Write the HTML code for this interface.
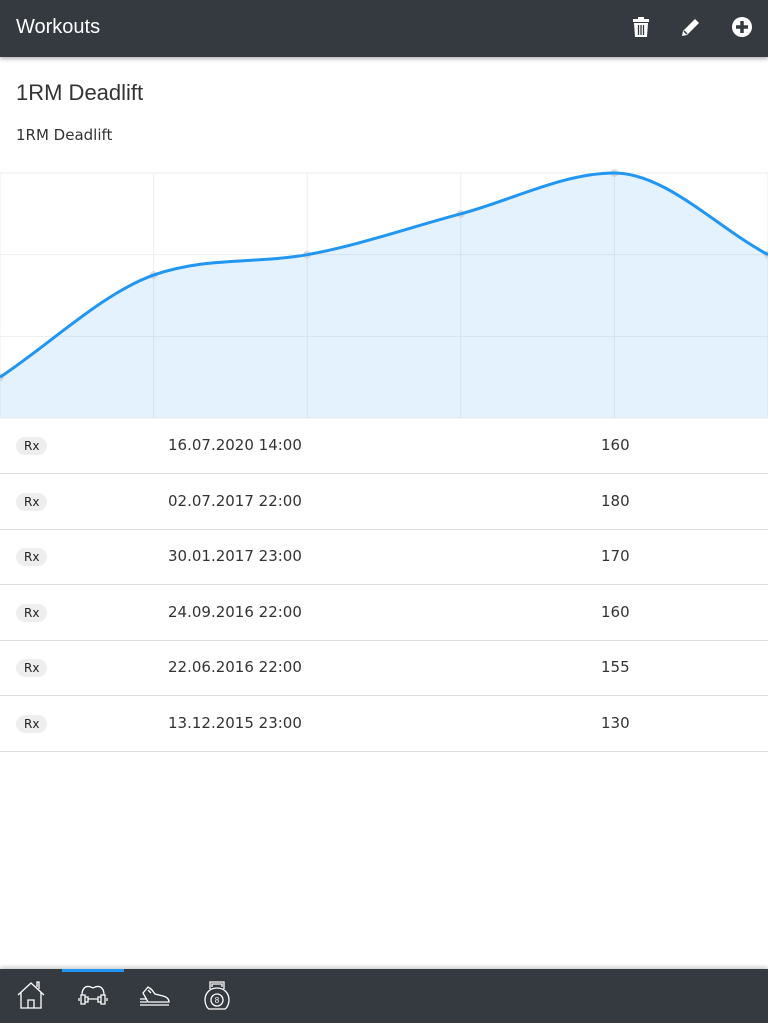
<!DOCTYPE html>
<html><head><meta charset="utf-8"><style>
*{box-sizing:border-box;margin:0;padding:0}
body{width:768px;height:1023px;overflow:hidden;background:#fff;font-family:"Liberation Sans","DejaVu Sans",sans-serif;color:#333;position:relative}
.top{position:absolute;left:0;top:0;width:768px;height:57px;background:#343a40;color:#fff;box-shadow:0 2px 4px rgba(0,0,0,.3)}
.top .t{position:absolute;left:16px;top:16px;font-size:20px}
.ic{position:absolute;top:16px}
h1{position:absolute;left:16px;top:80px;font-size:22px;font-weight:normal;color:#333}
.sub{position:absolute;left:16px;top:126px;font-size:15px;font-family:"DejaVu Sans",sans-serif;color:#333}
svg.chart{position:absolute;left:0;top:160px}
.row{position:absolute;left:0;width:768px;height:56px;border-bottom:1px solid #ddd;font-family:"DejaVu Sans",sans-serif;font-size:15px;color:#333}
.badge{position:absolute;left:16px;top:19px;background:#eee;border-radius:9px;font-size:12px;padding:2px 8px;color:#222}
.d{position:absolute;left:168px;top:18px}
.v{position:absolute;left:601px;top:18px}
.nav{position:absolute;left:0;top:969px;width:768px;height:54px;background:#343a40;box-shadow:0 -2px 4px rgba(0,0,0,.2)}
.nav svg{position:absolute;top:10px}
</style></head><body>
<div class="top">
<div class="t">Workouts</div>
<svg class="ic" style="left:631px" width="20" height="22" viewBox="0 0 20 22"><rect x="2" y="3" width="16" height="3" fill="#fff"/><rect x="7" y="1" width="6" height="3" fill="#fff"/><path d="M3 7h14l-1 14H4z" fill="#fff"/><path d="M7.5 9v10M10 9v10M12.5 9v10" stroke="#343a40" stroke-width="1.3"/></svg>
<svg class="ic" style="left:680px" width="22" height="22" viewBox="0 0 22 22"><path d="M2 20l1-5L15 3l4 4L7 19z" fill="#fff"/><path d="M4 15l3 3" stroke="#343a40" stroke-width="1.5"/></svg>
<svg class="ic" style="left:731px" width="22" height="22" viewBox="0 0 22 22"><circle cx="11" cy="11" r="10" fill="#fff"/><path d="M11 5v12M5 11h12" stroke="#343a40" stroke-width="3.5"/></svg>
</div>
<h1>1RM Deadlift</h1>
<div class="sub">1RM Deadlift</div>
<svg class="chart" id="chart" width="768" height="260"></svg>
<div id="rows"></div>
<div class="nav">
<div style="position:absolute;left:62px;top:0;width:62px;height:3px;background:#2196f3"></div>
<svg style="left:16px" width="30" height="32" viewBox="0 0 30 32" fill="none" stroke="#fff" stroke-width="1.3"><path d="M2 16L15 4l13 12M5 13v16h20V13M12 29v-8h6v8M21 8V3h2v7"/></svg>
<svg style="left:78px" width="30" height="32" viewBox="0 0 30 32" fill="none" stroke="#fff" stroke-width="1.3"><path d="M4 16c0-9 6-10 11-7 5-3 11-2 11 7M3 16h4v9H3zM23 16h4v9h-4zM7 18h3v5H7zM20 18h3v5h-3zM10 20h10M1 19v3M29 19v3"/></svg>
<svg style="left:139px" width="32" height="32" viewBox="0 0 32 32" fill="none" stroke="#fff" stroke-width="1.3"><path d="M4 14l5-6 4 3 3 4 8 2c4 1 6 3 6 6H9zM9 23h21M1 20h7M1 23h7M1 26h29M9 11l3 3M11 9l3 3"/></svg>
<svg style="left:202px" width="30" height="32" viewBox="0 0 30 32" fill="none" stroke="#fff" stroke-width="1.3"><path d="M8 10V3h14v7M10 8V5h10v3M15 9C8 9 3 14 3 21c0 4 2 8 4 9h16c2-1 4-5 4-9 0-7-5-12-12-12z"/><circle cx="15" cy="21" r="6"/><text x="15" y="24" font-size="8" fill="#fff" stroke="none" text-anchor="middle" font-family="Liberation Sans">8</text></svg>
</div>
<script>
const dates=["13.12.2015 23:00","22.06.2016 22:00","24.09.2016 22:00","30.01.2017 23:00","02.07.2017 22:00","16.07.2020 14:00"];
const weights=[130,155,160,170,180,160];
const yTicks=[120,140,160,180];
const W=768,top0=13,bot=258,yMin=120,yMax=180;
const NS="http://www.w3.org/2000/svg";
const xs=i=>i*W/(weights.length-1);
const ys=v=>bot-(v-yMin)/(yMax-yMin)*(bot-top0);
const svg=document.getElementById('chart');
function el(t,a){const e=document.createElementNS(NS,t);for(const k in a)e.setAttribute(k,a[k]);svg.appendChild(e);return e;}
yTicks.forEach(t=>{const l=el('line',{x1:0,x2:W,y1:ys(t),y2:ys(t),stroke:'#eee'});

});
weights.forEach((w,i)=>{const l=el('line',{x1:xs(i),x2:xs(i),y1:top0,y2:bot,stroke:'#eee'});

});
const P=weights.map((w,i)=>[xs(i),ys(w)]);
const n=P.length,d=[],m=[];
for(let i=0;i<n-1;i++)d.push((P[i+1][1]-P[i][1])/(P[i+1][0]-P[i][0]));
m[0]=d[0];m[n-1]=d[n-2];
for(let i=1;i<n-1;i++)m[i]=d[i-1]*d[i]<=0?0:(d[i-1]+d[i])/2;
for(let i=0;i<n-1;i++){if(d[i]===0){m[i]=m[i+1]=0;continue;}const a=m[i]/d[i],b=m[i+1]/d[i],s=a*a+b*b;if(s>9){const t=3/Math.sqrt(s);m[i]=t*a*d[i];m[i+1]=t*b*d[i];}}
let path=`M${P[0][0]},${P[0][1]}`;
for(let i=0;i<n-1;i++){const h=(P[i+1][0]-P[i][0])/3;path+=` C${P[i][0]+h},${P[i][1]+m[i]*h} ${P[i+1][0]-h},${P[i+1][1]-m[i+1]*h} ${P[i+1][0]},${P[i+1][1]}`;}
const area=el('path',{d:path+` L${W},${bot} L0,${bot} Z`,fill:'rgba(33,150,243,0.12)'});


P.forEach(p=>{const c=el('circle',{cx:p[0],cy:p[1],r:4,fill:'rgba(200,200,200,0.6)'});

});
const line=el('path',{d:path,fill:'none',stroke:'#2196f3','stroke-width':3});


const rows=document.getElementById('rows');
for(let k=0;k<n;k++){const i=n-1-k;const r=document.createElement('div');r.className='row';r.style.top=(418+k*55.5)+'px';


r.innerHTML='<span class="badge">Rx</span><span class="d">'+dates[i]+'</span><span class="v">'+weights[i]+'</span>';rows.appendChild(r);}
</script>
</body></html>
